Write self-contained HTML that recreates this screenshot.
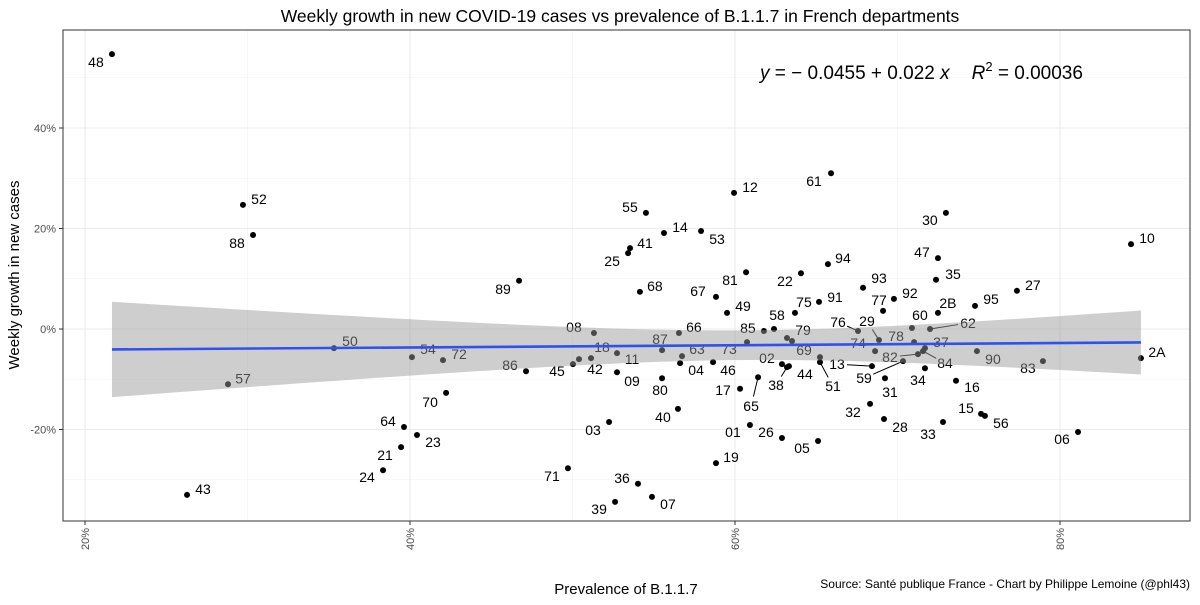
<!DOCTYPE html>
<html><head><meta charset="utf-8"><style>
body{margin:0;background:#fff;}
svg text{font-family:"Liberation Sans",sans-serif;}
</style></head><body>
<svg id="chart" width="1200" height="600" xmlns="http://www.w3.org/2000/svg">
<text x="620" y="22" font-size="17.5" text-anchor="middle">Weekly growth in new COVID-19 cases vs prevalence of B.1.1.7 in French departments</text>
<g id="grid"></g>
<g id="pts"></g>
<g id="band"></g>
<rect x="63" y="30" width="1127" height="491" fill="none" stroke="#333" stroke-width="1"/>
<text x="760" y="79" font-size="19"><tspan font-style="italic">y</tspan> = − 0.0455 + 0.022 <tspan font-style="italic">x</tspan><tspan font-style="italic" dx="22">R</tspan><tspan font-size="13" dy="-8">2</tspan><tspan dy="8"> = 0.00036</tspan></text>
<g id="axes"></g>
<text transform="translate(19,275) rotate(-90)" font-size="15" text-anchor="middle">Weekly growth in new cases</text>
<text x="626" y="594" font-size="15" text-anchor="middle">Prevalence of B.1.1.7</text>
<text x="1190" y="588" font-size="12" text-anchor="end">Source: Santé publique France - Chart by Philippe Lemoine (@phl43)</text>
</svg>
<script>
const codes=["48","52","88","50","54","72","57","70","64","23","21","24","43","89","12","61","55","14","53","41","25","68","67","81","22","94","49","58","85","75","91","","79","08","66","87","18","45","42","11","86","09","63","04","73","46","80","02","44","38","69","51","13","59","82","84","37","78","74","29","76","60","62","2B","17","65","40","03","01","26","05","19","71","36","39","07","30","10","47","35","93","27","92","77","95","90","83","2A","34","31","16","32","28","15","56","33","06"];
const prevalence=[21.66,29.72,30.34,35.32,40.12,42.03,28.80,42.22,39.63,40.43,39.45,38.34,26.28,46.71,59.94,65.91,54.52,55.63,57.91,53.54,53.42,54.15,58.83,60.68,64.06,65.72,59.51,62.40,61.78,63.69,65.17,63.20,63.51,51.32,56.55,55.51,50.40,50.03,51.14,52.74,47.14,52.74,56.74,56.62,60.74,58.65,55.51,62.89,63.32,63.20,65.23,65.23,68.43,70.34,71.26,71.57,71.69,71.02,68.62,68.86,67.57,70.89,72.00,72.49,60.31,61.42,56.49,52.25,60.92,62.89,65.11,58.83,49.72,54.03,52.62,54.89,72.98,84.37,72.49,72.37,67.88,77.35,69.78,69.11,74.77,74.89,78.95,84.98,71.69,69.23,73.60,68.31,69.17,75.14,75.38,72.80,81.11];
const growth=[54.7,24.7,18.7,-3.8,-5.6,-6.2,-11.0,-12.7,-19.5,-21.1,-23.5,-28.1,-33.0,9.6,27.1,31.0,23.1,19.1,19.5,16.1,15.1,7.4,6.4,11.3,11.1,12.9,3.2,0.0,-0.4,3.2,5.4,-1.8,-2.4,-0.8,-0.8,-4.2,-6.0,-7.0,-5.8,-4.8,-8.4,-8.6,-5.4,-6.8,-2.6,-6.6,-9.8,-7.0,-7.4,-7.6,-5.6,-6.6,-7.4,-6.4,-5.0,-4.4,-3.8,-2.6,-4.4,-2.2,-0.4,0.2,0.0,3.2,-11.9,-9.6,-15.9,-18.5,-19.1,-21.7,-22.3,-26.7,-27.7,-30.8,-34.4,-33.4,23.1,16.9,14.1,9.8,8.2,7.6,6.0,3.6,4.6,-4.4,-6.4,-5.8,-7.8,-9.8,-10.3,-14.9,-17.9,-16.9,-17.3,-18.5,-20.5];
const xTicks=[20,40,60,80];
const xTickLabels=["20%","40%","60%","80%"];
const yTicks=[-20,0,20,40];
const yTickLabels=["-20%","0%","20%","40%"];
const fitIntercept=-0.0455, fitSlope=0.022;
const fitRange=[21.66,84.98];

const off={"48":[-16,8],"52":[16,-6],"88":[-16,8],"50":[16,-7],"54":[16,-8],"72":[16,-6],"57":[15,-6],"70":[-16,9],"64":[-16,-6],"23":[16,7],"21":[-16,8],"24":[-16,7],"43":[16,-6],"89":[-16,8],"12":[16,-6],"61":[-17,8],"55":[-16,-6],"14":[16,-6],"53":[16,8],"41":[15,-5],"25":[-16,8],"68":[15,-6],"67":[-18,-6],"81":[-16,8],"22":[-16,8],"94":[15,-6],"49":[16,-7],"58":[3,-14],"85":[-16,-3],"75":[9,-11],"91":[16,-5],"79":[11,-11],"08":[-20,-6],"66":[15,-6],"87":[-2,-11],"18":[23,-12],"45":[-16,7],"42":[4,11],"11":[15,6],"86":[-16,-6],"09":[15,9],"63":[15,-7],"04":[16,7],"73":[-18,7],"46":[15,8],"80":[-2,12],"02":[-15,-6],"44":[16,8],"38":[-11,18],"69":[-16,-7],"51":[13,24],"13":[-35,-2],"59":[-39,17],"82":[-28,3],"84":[22,12],"37":[16,-6],"78":[-18,-6],"74":[-17,-8],"29":[-12,-19],"76":[-20,-9],"60":[8,-13],"62":[38,-6],"2B":[10,-10],"17":[-17,1],"65":[-7,29],"40":[-15,8],"03":[-16,8],"01":[-17,7],"26":[-16,-6],"05":[-16,7],"19":[15,-6],"71":[-16,8],"36":[-16,-6],"39":[-16,7],"07":[16,7],"30":[-16,7],"10":[16,-6],"47":[-16,-6],"35":[17,-6],"93":[16,-10],"27":[16,-6],"92":[16,-6],"77":[-4,-11],"95":[16,-7],"90":[16,8],"83":[-15,7],"2A":[16,-6],"34":[-7,12],"31":[5,14],"16":[16,6],"32":[-17,8],"28":[16,8],"15":[-15,-6],"56":[16,7],"33":[-15,12],"06":[-16,7]};
const leaders=["65","38","51","13","59","82","84","62","29","76"];

const NS="http://www.w3.org/2000/svg";
const X=p=>85+(p-20)*16.25;
const Y=g=>329-g*5.025;
function mk(tag,attrs,parent){const e=document.createElementNS(NS,tag);for(const k in attrs)e.setAttribute(k,attrs[k]);parent.appendChild(e);return e;}
const grid=document.getElementById('grid'),pts=document.getElementById('pts'),band=document.getElementById('band'),axes=document.getElementById('axes');
mk('rect',{x:63,y:30,width:1127,height:491,fill:'#fff'},grid);
[10,30,50,70].forEach(v=>{const l=mk('line',{x1:X(v),x2:X(v),y1:30,y2:521,stroke:'#f2f2f2','stroke-width':0.6},grid);});
[-30,-10,10,30,50].forEach(v=>{const l=mk('line',{x1:63,x2:1190,y1:Y(v),y2:Y(v),stroke:'#f2f2f2','stroke-width':0.6},grid);});
xTicks.forEach((v,i)=>{
 const l=mk('line',{x1:X(v),x2:X(v),y1:30,y2:521,stroke:'#ebebeb','stroke-width':1.1},grid);
 
 
 mk('line',{x1:X(v),x2:X(v),y1:521,y2:525,stroke:'#333'},axes);
 const t=mk('text',{transform:`translate(${X(v)+4},528) rotate(-90)`,'font-size':11,fill:'#4d4d4d','text-anchor':'end'},axes);
 t.textContent=xTickLabels[i];
 
 
});
yTicks.forEach((v,i)=>{
 const l=mk('line',{x1:63,x2:1190,y1:Y(v),y2:Y(v),stroke:'#ebebeb','stroke-width':1.1},grid);
 
 
 mk('line',{x1:59,x2:63,y1:Y(v),y2:Y(v),stroke:'#333'},axes);
 const t=mk('text',{x:56,y:Y(v)+4,'font-size':11,fill:'#4d4d4d','text-anchor':'end'},axes);
 t.textContent=yTickLabels[i];
 
 
});
codes.forEach((c,i)=>{
 const px=X(prevalence[i]),py=Y(growth[i]);
 const o=off[c];
 if(o&&leaders.includes(c)){
  const d=Math.hypot(o[0],o[1]);const s=(d-10)/d;
  const ln=mk('line',{x1:px,y1:py,x2:px+o[0]*s,y2:py+o[1]*s,stroke:'#000','stroke-width':1},pts);
  
  
 }
 const ci=mk('circle',{cx:px,cy:py,r:3,fill:'#000'},pts);
 
 
 if(o){
  const t=mk('text',{x:px+o[0],y:py+o[1]+5,'font-size':14,'text-anchor':'middle',fill:'#000'},pts);
  t.textContent=c;
  
  
 }
});
const fx=v=>(fitIntercept+fitSlope*v/100)*100;
const bandTop=[],bandBot=[];
for(let k=0;k<=60;k++){
 const v=fitRange[0]+(fitRange[1]-fitRange[0])*k/60;
 const x=X(v),hw=Math.sqrt(220+0.00512*(x-745)*(x-745));
 bandTop.push(x+','+(Y(fx(v))-hw));bandBot.unshift(x+','+(Y(fx(v))+hw));
}
const poly=mk('polygon',{points:bandTop.concat(bandBot).join(' '),fill:'#999','fill-opacity':0.48},band);


const fl=mk('line',{x1:X(fitRange[0]),y1:Y(fx(fitRange[0])),x2:X(fitRange[1]),y2:Y(fx(fitRange[1])),stroke:'#3050f0','stroke-width':2.6},band);


</script>
</body></html>
